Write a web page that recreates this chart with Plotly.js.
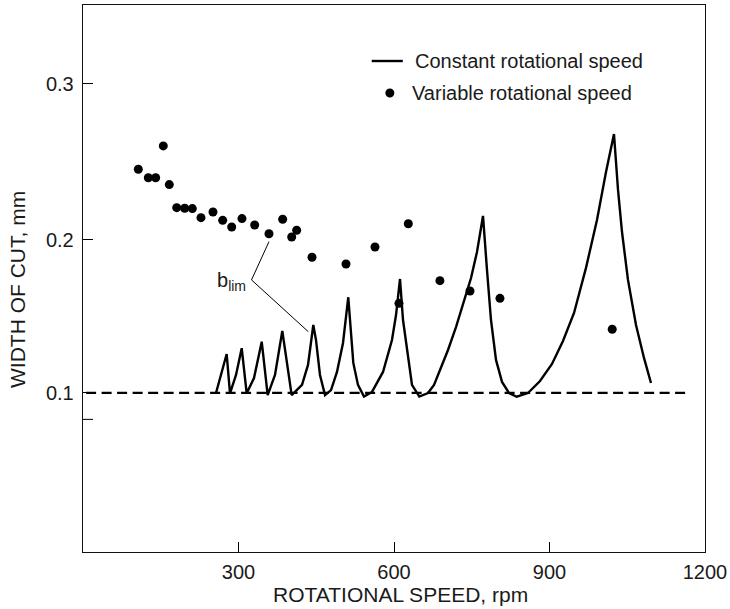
<!DOCTYPE html>
<html>
<head>
<meta charset="utf-8">
<script src="https://cdn.plot.ly/plotly-3.0.1.min.js"></script>
<style>html,body{margin:0;padding:0;background:#fff;}#chart{width:730px;height:609px;}</style>
</head>
<body>
<div id="chart"></div>
<script>
// Constant rotational speed: stability-lobe curve (rpm, mm)
const constSpeed = [256.6,277.2,283.6,295.2,306.2,315.8,329.9,344.8,356.3,370.4,384.5,402.6,422.5,434.1,444.3,449.5,457.2,466.9,478.5,490.0,501.6,511.8,521.5,530.5,542.1,557.6,578.8,596.1,603.9,611.6,617.4,624.5,634.7,648.8,665.6,677.2,688.7,704.2,719.6,735.0,748.6,760.1,771.7,779.4,787.1,796.8,808.4,821.9,836.7,858.5,881.7,904.8,926.0,947.3,970.4,991.6,1009.0,1024.4,1032.2,1039.9,1051.4,1066.9,1082.3,1095.8];
const constWidth = [0.1019,0.1269,0.1017,0.1135,0.1306,0.1017,0.1115,0.1348,0.1006,0.1135,0.1417,0.1006,0.1071,0.1199,0.1455,0.1359,0.1135,0.1006,0.1038,0.1154,0.1340,0.1633,0.1212,0.1071,0.0996,0.1026,0.1154,0.1359,0.1519,0.1750,0.1487,0.1314,0.1071,0.0996,0.1019,0.1071,0.1167,0.1295,0.1442,0.1603,0.1756,0.1923,0.2154,0.1808,0.1487,0.1231,0.1090,0.1019,0.0995,0.1019,0.1096,0.1205,0.1353,0.1532,0.1821,0.2128,0.2436,0.2679,0.2321,0.2051,0.1744,0.1455,0.1244,0.1083];
// Variable rotational speed: measured points (rpm, mm)
const varSpeed = [106.7,126.0,140.2,154.9,166.5,180.8,196.2,210.9,227.6,250.8,269.5,286.9,306.7,331.2,358.8,385.2,402.6,412.2,441.8,507.4,563.3,609.6,627.6,688.6,746.6,804.4,1021];
const varWidth = [0.2453,0.2399,0.2399,0.2603,0.2355,0.2207,0.2203,0.2201,0.2143,0.2179,0.2126,0.2083,0.2137,0.2096,0.2040,0.2133,0.2019,0.2062,0.1889,0.1846,0.1955,0.1594,0.2104,0.1739,0.1673,0.1626,0.1428];
// Asymptotic limit line
const limSpeed = [6, 1165];
const limWidth = [0.102, 0.102];
// Tick labels
const xTicks = [300, 600, 900, 1200];
const yTicks = [0.102, 0.2, 0.3];
const yTickText = ['0.1', '0.2', '0.3'];
const extraTick = 0.085;

const FONT = 'Liberation Sans, Arial, Helvetica, sans-serif';
const TXT = '#1a1a1a';

const traces = [
  {x: limSpeed, y: limWidth, mode: 'lines', line: {color: '#000', width: 2.4, dash: '10px,5.5px'}, showlegend: false, hoverinfo: 'skip'},
  {x: constSpeed, y: constWidth, mode: 'lines', name: 'Constant rotational speed', line: {color: '#000', width: 2.4}, showlegend: false},
  {x: varSpeed, y: varWidth, mode: 'markers', name: 'Variable rotational speed', marker: {color: '#000', size: 9}, showlegend: false}
];

const layout = {
  width: 730, height: 609,
  margin: {l: 83, r: 25, t: 5, b: 57},
  paper_bgcolor: '#fff', plot_bgcolor: '#fff',
  font: {family: FONT, size: 20, color: TXT},
  xaxis: {
    range: [0, 1200], tickvals: xTicks, ticks: 'inside', ticklen: 10, tickwidth: 1, tickcolor: '#000',
    showline: true, linecolor: '#111', linewidth: 1.3, mirror: true, showgrid: false, zeroline: false,
    tickfont: {family: FONT, size: 20, color: TXT}, ticklabelstandoff: 2
  },
  yaxis: {
    range: [0, 0.3506], tickvals: yTicks, ticktext: yTickText, ticks: 'inside', ticklen: 10, tickwidth: 1, tickcolor: '#000',
    showline: true, linecolor: '#111', linewidth: 1.3, mirror: true, showgrid: false, zeroline: false,
    tickfont: {family: FONT, size: 20, color: TXT}, ticklabelstandoff: 4
  },
  shapes: [
    // extra inside tick on the y axis below the 0.1 line
    {type: 'line', xref: 'x', yref: 'y', xsizemode: 'pixel', xanchor: 0, x0: 0, x1: 10, y0: extraTick, y1: extraTick, line: {color: '#000', width: 1}},
    // b_lim pointer lines
    {type: 'line', xref: 'x', yref: 'y', x0: 325.1, y0: 0.1744, x1: 358.8, y1: 0.1989, line: {color: '#000', width: 1}},
    {type: 'line', xref: 'x', yref: 'y', x0: 325.1, y0: 0.1744, x1: 434.7, y1: 0.1412, line: {color: '#000', width: 1}},
    // legend samples
    {type: 'line', xref: 'x', yref: 'y', x0: 557, y0: 0.3147, x1: 617, y1: 0.3147, line: {color: '#000', width: 2.4}},
    {type: 'circle', xref: 'x', yref: 'y', xsizemode: 'pixel', ysizemode: 'pixel', xanchor: 592, yanchor: 0.2942, x0: -4.5, x1: 4.5, y0: -4.5, y1: 4.5, fillcolor: '#000', line: {width: 0}}
  ],
  annotations: [
    {x: 0.511, y: -0.0786, xref: 'paper', yref: 'paper', text: 'ROTATIONAL SPEED, rpm', showarrow: false, xanchor: 'center', yanchor: 'middle', font: {family: FONT, size: 21, color: TXT}},
    {x: -0.1045, y: 0.479, xref: 'paper', yref: 'paper', text: 'WIDTH OF CUT, mm', textangle: -90, showarrow: false, xanchor: 'center', yanchor: 'middle', font: {family: FONT, size: 21, color: TXT}},
    {x: 318, y: 0.1731, xref: 'x', yref: 'y', text: 'b<sub>lim</sub>', showarrow: false, xanchor: 'right', yanchor: 'middle', font: {family: FONT, size: 20, color: TXT}},
    {x: 636, y: 0.3147, xref: 'x', yref: 'y', text: 'Constant rotational speed', showarrow: false, xanchor: 'left', yanchor: 'middle', font: {family: FONT, size: 20, color: TXT}},
    {x: 631, y: 0.2942, xref: 'x', yref: 'y', text: 'Variable rotational speed', showarrow: false, xanchor: 'left', yanchor: 'middle', font: {family: FONT, size: 20, color: TXT}}
  ]
};

Plotly.newPlot('chart', traces, layout, {staticPlot: true, displayModeBar: false});
</script>
</body>
</html>
